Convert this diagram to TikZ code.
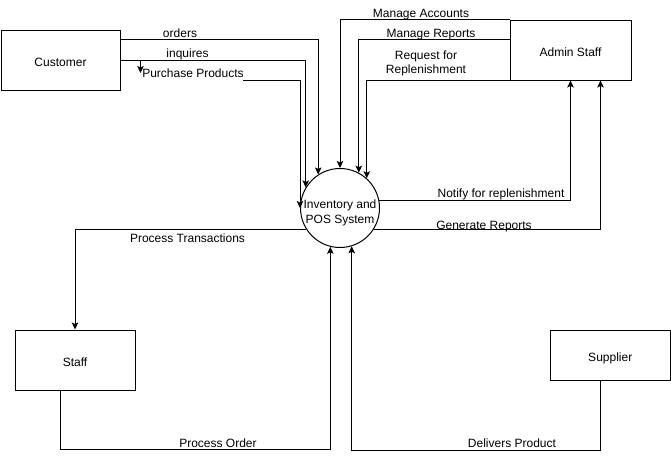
\documentclass[tikz,border=0pt]{standalone}
\usepackage{fontspec}
\setmainfont{Liberation Sans}
\usetikzlibrary{arrows.meta}
\begin{document}
\begin{tikzpicture}[x=1pt,y=-1pt, line width=1pt,
  font=\fontsize{12}{15}\selectfont,
  box/.style={draw, rectangle, inner sep=0pt, text height=12.4pt, text depth=0pt},
  proc/.style={draw, circle, minimum size=79pt, inner sep=0pt, align=center, text height=30pt, text depth=0pt},
  lbl/.style={inner sep=0pt, align=center, text height=12.4pt, text depth=0pt},
  flow/.style={-{Stealth[length=7pt,width=6.5pt,inset=1.5pt]}}]
\useasboundingbox (0,0) rectangle (671,459);

\node[box, minimum width=119pt, minimum height=60pt] (cust) at (60.5,60) {Customer};
\node[box, minimum width=121pt, minimum height=60pt] (admin) at (570.5,50) {Admin Staff};
\node[box, minimum width=120pt, minimum height=60pt] (staff) at (75,360) {Staff};
\node[box, minimum width=120pt, minimum height=50pt] (supp) at (610.25,355) {Supplier};
\node[proc] (c) at (340,208) {Inventory and\\POS System};

\coordinate (dang) at (140.5,73);
\coordinate (ppstart) at (243,80);

% customer flows
\draw[flow] ([yshift=-10pt]cust.north east) -| (c.123.8);
\draw[flow] (cust.east) -| (c.149.4);
\draw[flow] (cust.east) -| (dang);
\draw[flow] (ppstart) -| (c.west);

% admin flows
\draw[flow] (admin.north west) -| (c.north);
\draw[flow] ([yshift=-20pt]admin.north west) -| (c.62.9);
\draw[flow] (admin.south west) -| (c.48.8);
\draw[flow] (c.11.7) -| (admin.south);
\draw[flow] (c.-33.8) -| ([xshift=30pt]admin.south);

% staff flows
\draw[flow] (c.213.8) -| (staff.north);
\draw[flow] ([xshift=-15pt]staff.south) -- ++(0,59) -| (c.-104.7);

% supplier flow
\draw[flow] ([xshift=-10.25pt]supp.south) -- ++(0,70) -| (c.-73.8);

% labels
\node[lbl] (lorders) at (180,31) {orders};
\node[lbl] (linq) at (187.5,51) {inquires};
\node[lbl] (lpp) at (193,71) {Purchase Products};
\node[lbl] (lma) at (421,11) {Manage Accounts};
\node[lbl] (lmr) at (431,31) {Manage Reports};
\node[lbl, font=\fontsize{12}{14}\selectfont, text height=25pt, text depth=0pt] (lrr) at (426,61) {Request for\\Replenishment};
\node[lbl] (lnr) at (501,191) {Notify for replenishment};
\node[lbl] (lgr) at (484,223) {Generate Reports};
\node[lbl] (lpt) at (187.5,236) {Process Transactions};
\node[lbl] (lpo) at (218,441) {Process Order};
\node[lbl] (ldp) at (512,441) {Delivers Product};
\end{tikzpicture}
\end{document}
